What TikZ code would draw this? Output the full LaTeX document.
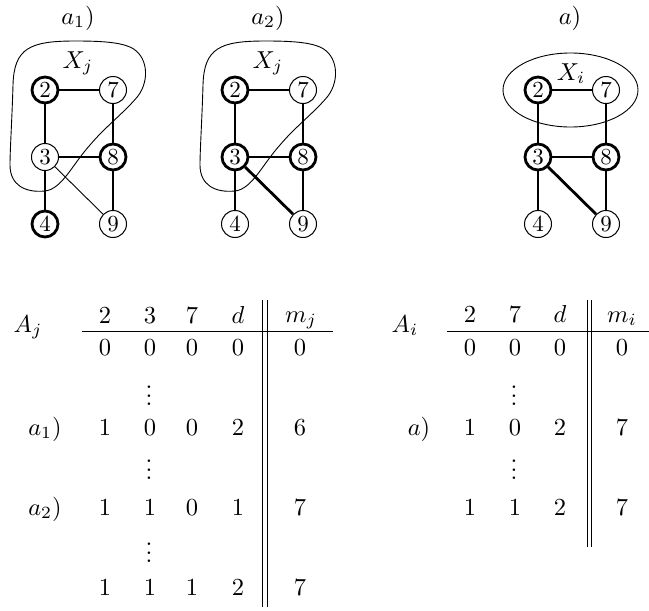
\documentclass[tikz,border=0pt]{standalone}
\usepackage{graphicx}
\newcommand{\tx}[1]{\scalebox{2.45}{#1}}
\newcommand{\nx}[1]{\scalebox{2.3}{#1}}
\newcommand{\myvdots}{\scalebox{2.45}{\vbox{\baselineskip=3.4pt\lineskiplimit=0pt\hbox{.}\hbox{.}\hbox{.}}}}
\begin{document}
\begin{tikzpicture}[x=1pt,y=-1pt,
  vthin/.style={circle,draw,line width=1pt,minimum size=27pt,inner sep=0pt},
  vthick/.style={circle,draw,line width=2.8pt,minimum size=26pt,inner sep=0pt},
  ethick/.style={line width=2.8pt},
  ethin/.style={line width=0.9pt},
  blob/.style={line width=0.9pt},
  cell/.style={anchor=base,inner sep=0pt},
  rule/.style={line width=0.9pt}]
\useasboundingbox (0,0) rectangle (649,611);

% ---------- graph a1 ----------
\node[cell] (ta1) at (78,24) {\tx{$a_1)$}};
\node[vthick] (p2) at (45,90) {\nx{2}};
\node[vthin]  (p7) at (113,90) {\nx{7}};
\node[vthin]  (p3) at (45,157) {\nx{3}};
\node[vthick] (p8) at (113,157) {\nx{8}};
\node[vthick] (p4) at (45,224) {\nx{4}};
\node[vthin]  (p9) at (113,224) {\nx{9}};
\draw[ethick] (p2) -- (p7);
\draw[ethick] (p2) -- (p3);
\draw[ethick] (p7) -- (p8);
\draw[ethick] (p3) -- (p8);
\draw[ethick] (p3) -- (p4);
\draw[ethick] (p8) -- (p9);
\draw[ethin] (p3) -- (p9);
\node[cell] (xa1) at (78,68) {\tx{$X_j$}};
\draw[blob] (75,41) .. controls (30,41) and (14,48) .. (13,85)
  .. controls (12,120) and (10,150) .. (10,165)
  .. controls (10,185) and (25,193) .. (45,191)
  .. controls (62,189) and (72,165) .. (90,145)
  .. controls (105,127) and (125,112) .. (138,96)
  .. controls (150,80) and (148,55) .. (130,47)
  .. controls (118,42) and (100,41) .. (75,41);

% ---------- graph a2 ----------
\node[cell] (ta2) at (268,24) {\tx{$a_2)$}};
\node[vthick] (q2) at (235,90) {\nx{2}};
\node[vthin]  (q7) at (303,90) {\nx{7}};
\node[vthick] (q3) at (235,157) {\nx{3}};
\node[vthick] (q8) at (303,157) {\nx{8}};
\node[vthin]  (q4) at (235,224) {\nx{4}};
\node[vthin]  (q9) at (303,224) {\nx{9}};
\draw[ethick] (q2) -- (q7);
\draw[ethick] (q2) -- (q3);
\draw[ethick] (q7) -- (q8);
\draw[ethick] (q3) -- (q8);
\draw[ethick] (q3) -- (q4);
\draw[ethick] (q8) -- (q9);
\draw[ethick] (q3) -- (q9);
\node[cell] (xa2) at (268,68) {\tx{$X_j$}};
\begin{scope}[xshift=190pt]
\draw[blob] (75,41) .. controls (30,41) and (14,48) .. (13,85)
  .. controls (12,120) and (10,150) .. (10,165)
  .. controls (10,185) and (25,193) .. (45,191)
  .. controls (62,189) and (72,165) .. (90,145)
  .. controls (105,127) and (125,112) .. (138,96)
  .. controls (150,80) and (148,55) .. (130,47)
  .. controls (118,42) and (100,41) .. (75,41);
\end{scope}

% ---------- graph a ----------
\node[cell] (ta) at (570,24) {\tx{$a)$}};
\node[vthick] (r2) at (538,90) {\nx{2}};
\node[vthin]  (r7) at (606,90) {\nx{7}};
\node[vthick] (r3) at (538,157) {\nx{3}};
\node[vthick] (r8) at (606,157) {\nx{8}};
\node[vthin]  (r4) at (538,224) {\nx{4}};
\node[vthin]  (r9) at (606,224) {\nx{9}};
\draw[ethick] (r2) -- (r7);
\draw[ethick] (r2) -- (r3);
\draw[ethick] (r7) -- (r8);
\draw[ethick] (r3) -- (r8);
\draw[ethick] (r3) -- (r4);
\draw[ethick] (r8) -- (r9);
\draw[ethick] (r3) -- (r9);
\node[cell] (xa) at (571,80) {\tx{$X_i$}};
\draw[blob] (570.5,90) ellipse [x radius=67.5, y radius=37];

% ---------- table A_j ----------
\node[cell] (Aj) at (28,332) {\tx{$A_j$}};
\node[cell] (jh1) at (105,323) {\tx{2}};
\node[cell] (jh2) at (150,323) {\tx{3}};
\node[cell] (jh3) at (192,323) {\tx{7}};
\node[cell] (jh4) at (238,323) {\tx{$d$}};
\node[cell] (jh5) at (301,322) {\tx{$m_j$}};
\draw[rule] (82,331) -- (333,331);
\draw[rule] (262,300) -- (262,607);
\draw[rule] (267,300) -- (267,607);
% row 0
\node[cell] (j01) at (105,355) {\tx{0}};
\node[cell] (j02) at (150,355) {\tx{0}};
\node[cell] (j03) at (192,355) {\tx{0}};
\node[cell] (j04) at (238,355) {\tx{0}};
\node[cell] (j05) at (300,355) {\tx{0}};
\node[inner sep=0pt] (jd1) at (149,396) {\myvdots};
% row a1
\node[cell] (jl1) at (45,435) {\tx{$a_1)$}};
\node[cell] (j11) at (105,435) {\tx{1}};
\node[cell] (j12) at (150,435) {\tx{0}};
\node[cell] (j13) at (192,435) {\tx{0}};
\node[cell] (j14) at (238,435) {\tx{2}};
\node[cell] (j15) at (300,435) {\tx{6}};
\node[inner sep=0pt] (jd2) at (149,470) {\myvdots};
% row a2
\node[cell] (jl2) at (45,515) {\tx{$a_2)$}};
\node[cell] (j21) at (105,515) {\tx{1}};
\node[cell] (j22) at (150,515) {\tx{1}};
\node[cell] (j23) at (192,515) {\tx{0}};
\node[cell] (j24) at (238,515) {\tx{1}};
\node[cell] (j25) at (300,515) {\tx{7}};
\node[inner sep=0pt] (jd3) at (149,553) {\myvdots};
% last row
\node[cell] (j31) at (105,595) {\tx{1}};
\node[cell] (j32) at (150,595) {\tx{1}};
\node[cell] (j33) at (192,595) {\tx{1}};
\node[cell] (j34) at (238,595) {\tx{2}};
\node[cell] (j35) at (300,595) {\tx{7}};

% ---------- table A_i ----------
\node[cell] (Ai) at (405,332) {\tx{$A_i$}};
\node[cell] (ih1) at (470,322) {\tx{2}};
\node[cell] (ih2) at (515,322) {\tx{7}};
\node[cell] (ih3) at (560,322) {\tx{$d$}};
\node[cell] (ih4) at (622,322) {\tx{$m_i$}};
\draw[rule] (447,331) -- (649,331);
\draw[rule] (587,300) -- (587,547);
\draw[rule] (591,300) -- (591,547);
\node[cell] (i01) at (470,355) {\tx{0}};
\node[cell] (i02) at (515,355) {\tx{0}};
\node[cell] (i03) at (560,355) {\tx{0}};
\node[cell] (i04) at (622,355) {\tx{0}};
\node[inner sep=0pt] (id1) at (514,396) {\myvdots};
\node[cell] (il1) at (419,435) {\tx{$a)$}};
\node[cell] (i11) at (470,435) {\tx{1}};
\node[cell] (i12) at (515,435) {\tx{0}};
\node[cell] (i13) at (560,435) {\tx{2}};
\node[cell] (i14) at (622,435) {\tx{7}};
\node[inner sep=0pt] (id2) at (514,470) {\myvdots};
\node[cell] (i21) at (470,515) {\tx{1}};
\node[cell] (i22) at (515,515) {\tx{1}};
\node[cell] (i23) at (560,515) {\tx{2}};
\node[cell] (i24) at (622,515) {\tx{7}};
\end{tikzpicture}
\end{document}
